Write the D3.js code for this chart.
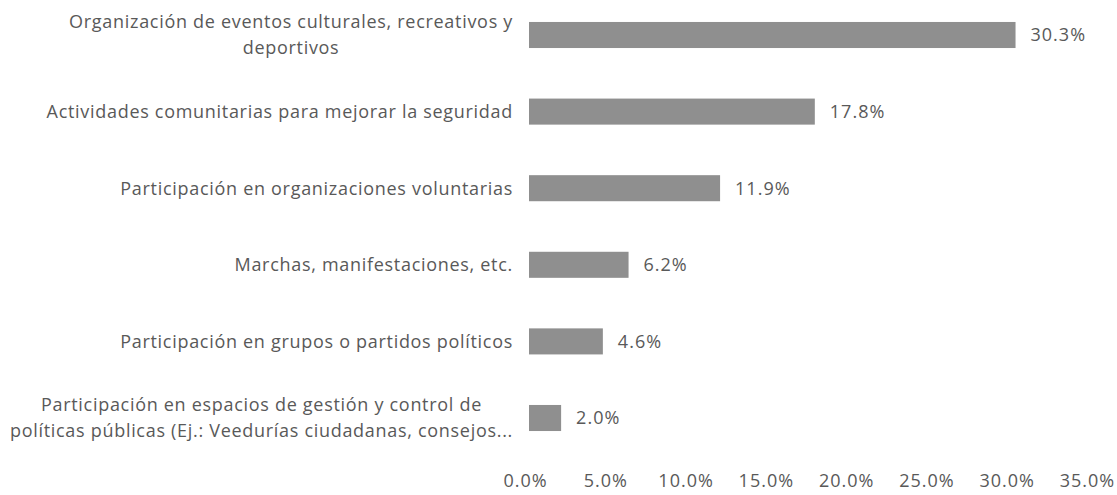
<!DOCTYPE html>
<html>
<head>
<meta charset="utf-8">
<script src="https://d3js.org/d3.v7.min.js"></script>
<style>
body {
  margin: 0;
  background: #ffffff;
  font-family: "Open Sans", Arial, sans-serif;
}
#chart text {
  fill: #595959;
  font-size: 18px;
  letter-spacing: 1px;
}
#chart text.cat {
  letter-spacing: 0.7px;
}
</style>
</head>
<body>
<div id="chart"></div>

<script>
// categories, top to bottom (each entry is the list of wrapped lines)
var categories = [
  ["Organización de eventos culturales, recreativos y", "deportivos"],
  ["Actividades comunitarias para mejorar la seguridad"],
  ["Participación en organizaciones voluntarias"],
  ["Marchas, manifestaciones, etc."],
  ["Participación en grupos o partidos políticos"],
  ["Participación en espacios de gestión y control de", "políticas públicas (Ej.: Veedurías ciudadanas, consejos..."]
];
var values = [30.3, 17.8, 11.9, 6.2, 4.6, 2.0];
var xTicks = [0, 5, 10, 15, 20, 25, 30, 35];

var data = categories.map(function(c, i) { return { id: i, lines: c, value: values[i] }; });

var svg = d3.select("#chart")
  .append("svg")
  .attr("width", 1117)
  .attr("height", 495);

// scales
var xScale = d3.scaleLinear()
  .domain([0, 35])
  .range([529, 1091]);

var yScale = d3.scaleBand()
  .domain(data.map(d => d.id))
  .range([-3.3, 456.3])
  .paddingInner(0.66)
  .paddingOuter(0.33);

// bars
svg.append("g")
  .selectAll("rect")
  .data(data)
  .enter()
  .append("rect")
  .attr("x", xScale(0))
  .attr("y", d => yScale(d.id))
  .attr("width", d => xScale(d.value) - xScale(0))
  .attr("height", yScale.bandwidth())
  .attr("fill", "#8f8f8f");

// value labels
svg.append("g")
  .selectAll("text")
  .data(data)
  .enter()
  .append("text")
  .attr("x", d => xScale(d.value) + 15)
  .attr("y", d => yScale(d.id) + yScale.bandwidth() / 2)
  .attr("dy", "0.35em")
  .text(d => d.value.toFixed(1) + "%");

// category labels (wrapped ones are centred in their block, block right aligned)
var labelRight = 513;
var lineH = 26;
var labels = svg.append("g")
  .selectAll("text")
  .data(data)
  .enter()
  .append("text")
  .attr("class", "cat")
  .attr("y", d => yScale(d.id) + yScale.bandwidth() / 2);

labels.each(function(d) {
  var t = d3.select(this);
  var n = d.lines.length;
  d.lines.forEach(function(line, j) {
    t.append("tspan")
      .attr("dy", j == 0 ? (0.35 - (n - 1) / 2 * lineH / 18) + "em" : lineH + "px")
      .text(line);
  });
  if (n == 1) {
    t.attr("text-anchor", "end");
    t.selectAll("tspan").attr("x", labelRight);
  } else {
    var maxW = 0;
    t.selectAll("tspan").each(function() { maxW = Math.max(maxW, this.getComputedTextLength()); });
    t.attr("text-anchor", "middle");
    t.selectAll("tspan").attr("x", labelRight - maxW / 2);
  }
});

// x axis (labels only)
var xAxis = svg.append("g")
  .attr("transform", "translate(-4, 474)")
  .call(d3.axisBottom(xScale)
    .tickValues(xTicks)
    .tickSize(0)
    .tickPadding(0)
    .tickFormat(d => d.toFixed(1) + "%"));
xAxis.select(".domain").remove();
xAxis.selectAll("text")
  .attr("fill", null)
  .attr("dy", "0.71em");
xAxis.attr("font-family", null).attr("font-size", null);
</script>
</body>
</html>
